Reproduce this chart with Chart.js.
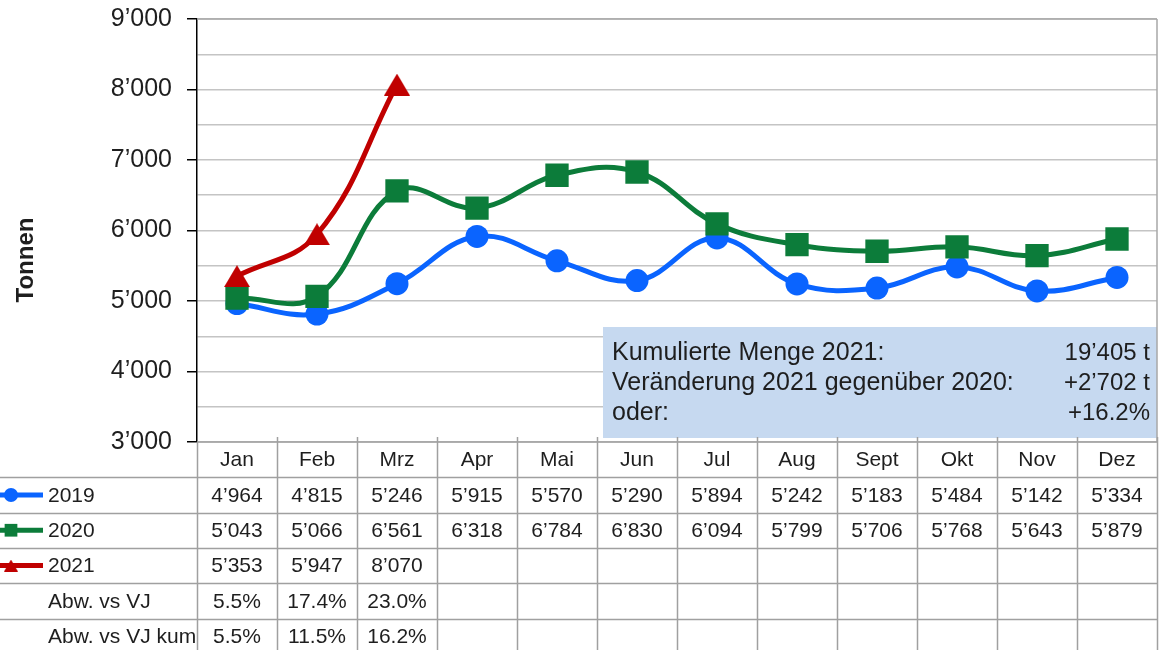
<!DOCTYPE html>
<html>
<head>
<meta charset="utf-8">
<script src="https://cdn.jsdelivr.net/npm/chart.js@4.4.1/dist/chart.umd.min.js"></script>
<style>
    body { margin: 0; background: #fff; }
    #chart { display: block; }
</style>
</head>
<body>
<canvas id="chart" width="1162" height="650"></canvas>
<script>
const months = ['Jan', 'Feb', 'Mrz', 'Apr', 'Mai', 'Jun', 'Jul', 'Aug', 'Sept', 'Okt', 'Nov', 'Dez'];
const values2019 = [4964, 4815, 5246, 5915, 5570, 5290, 5894, 5242, 5183, 5484, 5142, 5334];
const values2020 = [5043, 5066, 6561, 6318, 6784, 6830, 6094, 5799, 5706, 5768, 5643, 5879];
const values2021 = [5353, 5947, 8070];
const abwVJ = ['5.5%', '17.4%', '23.0%'];
const abwVJKum = ['5.5%', '11.5%', '16.2%'];
const infoLabels = ['Kumulierte Menge 2021:', 'Veränderung 2021 gegenüber 2020:', 'oder:'];
const infoValues = ['19\u2019405 t', '+2\u2019702 t', '+16.2%'];

const FONT = '"Liberation Sans", Arial, sans-serif';
const TEXT = '#1e1e1e';
const GRID = '#c4c4c4';

function fmt(n) {
    return String(n).replace(/\B(?=(\d{3})+(?!\d))/g, '\u2019');
}

// triangle marker centred on its box, like the Excel one
function triangleImage(w, h, color) {
    const c = document.createElement('canvas');
    c.width = w;
    c.height = h;
    const g = c.getContext('2d');
    g.fillStyle = color;
    g.beginPath();
    g.moveTo(w / 2, 0);
    g.lineTo(w, h);
    g.lineTo(0, h);
    g.closePath();
    g.fill();
    return c;
}

const RED = '#c00000';
const series = [
    { label: '2019', data: values2019, color: '#0a64ff', style: 'circle', radius: 11.5, legendStyle: 'circle', legendRadius: 7, order: 2 },
    { label: '2020', data: values2020, color: '#0c7c3a', style: 'rect', radius: 16.5, legendStyle: 'rect', legendRadius: 9, order: 1 },
    { label: '2021', data: values2021, color: RED, style: triangleImage(26, 22, RED), radius: 12, legendStyle: triangleImage(14, 12, RED), legendRadius: 7, order: 0 }
];

// table + info box + axis title
const tablePlugin = {
    id: 'tablePlugin',
    beforeDatasetsDraw(chart) {
        const ctx = chart.ctx;
        const area = chart.chartArea;
        // info box
        const bx = 603, by = 327, bw = area.right - 603, bh = 111;
        ctx.save();
        ctx.fillStyle = '#c6d9f0';
        ctx.fillRect(bx, by, bw, bh);
        ctx.fillStyle = TEXT;
        ctx.textBaseline = 'middle';
        infoLabels.forEach((t, i) => {
            ctx.font = '25px ' + FONT;
            ctx.textAlign = 'left';
            ctx.fillText(t, bx + 9, by + 26 + i * 30);
            ctx.font = '24px ' + FONT;
            ctx.textAlign = 'right';
            ctx.fillText(infoValues[i], area.right - 7, by + 26 + i * 30);
        });
        ctx.restore();
    },
    afterDraw(chart) {
        const ctx = chart.ctx;
        const area = chart.chartArea;
        const xs = chart.scales.x;
        const colW = (area.right - area.left) / months.length;
        const rowH = 35.3;
        const top = area.bottom;
        ctx.save();

        // right and top border of the plot
        ctx.strokeStyle = '#a8a8a8';
        ctx.lineWidth = 1.5;
        ctx.beginPath();
        ctx.moveTo(area.right, area.top);
        ctx.lineTo(area.right, area.bottom);
        ctx.moveTo(area.left, area.top);
        ctx.lineTo(area.right, area.top);
        ctx.stroke();

        // table grid
        ctx.strokeStyle = '#a0a0a0';
        ctx.lineWidth = 1.5;
        ctx.beginPath();
        ctx.moveTo(area.left, top);
        ctx.lineTo(area.right, top);
        for (let r = 1; r <= 5; r++) {
            const y = Math.round(top + r * rowH) + 0.5;
            ctx.moveTo(0, y);
            ctx.lineTo(area.right, y);
        }
        for (let c = 0; c <= months.length; c++) {
            const x = Math.round(area.left + c * colW) + 0.5;
            ctx.moveTo(x, c === 0 ? top : top - 5);
            ctx.lineTo(x, 650);
        }
        ctx.stroke();

        ctx.font = '21px ' + FONT;
        ctx.fillStyle = TEXT;
        ctx.textBaseline = 'middle';
        ctx.textAlign = 'center';
        months.forEach((m, i) => {
            const x = xs.getPixelForValue(i);
            ctx.fillText(m, x, top + rowH / 2 + 1);
        });
        series.forEach((s, r) => {
            const y = top + (r + 1.5) * rowH + 1;
            s.data.forEach((v, i) => {
                ctx.fillText(fmt(v), xs.getPixelForValue(i), y);
            });
        });
        [abwVJ, abwVJKum].forEach((row, k) => {
            const y = top + (k + 4.5) * rowH + 1;
            row.forEach((v, i) => ctx.fillText(v, xs.getPixelForValue(i), y));
        });

        // row labels with legend keys
        ctx.textAlign = 'left';
        series.forEach((s, r) => {
            const y = top + (r + 1.5) * rowH;
            ctx.strokeStyle = s.color;
            ctx.lineWidth = 5;
            ctx.beginPath();
            ctx.moveTo(0, y);
            ctx.lineTo(43, y);
            ctx.stroke();
            ctx.fillStyle = s.color;
            Chart.helpers.drawPoint(ctx, { pointStyle: s.legendStyle, radius: s.legendRadius, rotation: 0, borderWidth: 0 }, 11, y);
            ctx.fillStyle = TEXT;
            ctx.fillText(s.label, 48, y + 1);
        });
        ctx.fillText('Abw. vs VJ', 48, top + 4.5 * rowH + 1);
        ctx.fillText('Abw. vs VJ kum', 48, top + 5.5 * rowH + 1);

        // axis title
        ctx.translate(26, 260);
        ctx.rotate(-Math.PI / 2);
        ctx.textAlign = 'center';
        ctx.font = 'bold 24px ' + FONT;
        ctx.fillText('Tonnen', 0, 0);
        ctx.restore();
    }
};

new Chart(document.getElementById('chart'), {
    type: 'line',
    data: {
        labels: months,
        datasets: series.map(s => ({
            label: s.label,
            data: s.data,
            order: s.order,
            borderColor: s.color,
            backgroundColor: s.color,
            borderWidth: 5,
            tension: 0.4,
            pointStyle: s.style,
            pointRadius: s.radius,
            pointBorderWidth: 0,
            pointBackgroundColor: s.color
        }))
    },
    options: {
        responsive: false,
        animation: false,
        layout: { autoPadding: false, padding: { top: 19, right: 5, bottom: 208, left: 0 } },
        plugins: {
            legend: { display: false },
            tooltip: { enabled: false },
            title: { display: false }
        },
        scales: {
            x: {
                display: false,
                offset: true
            },
            y: {
                min: 3000,
                max: 9000,
                afterFit(scale) {
                    scale.width = 197;
                    scale.paddingTop = 0;
                    scale.paddingBottom = 0;
                    scale.paddingLeft = 0;
                    scale.paddingRight = 0;
                },
                border: { display: true, color: '#000', width: 1.5 },
                grid: {
                    color: GRID,
                    lineWidth: 1.5,
                    tickLength: 10,
                    tickColor: c => (c.tick && c.tick.value % 1000 === 0) ? '#000' : 'rgba(0,0,0,0)'
                },
                ticks: {
                    stepSize: 500,
                    autoSkip: false,
                    padding: 15,
                    color: TEXT,
                    font: { family: FONT, size: 25 },
                    callback: v => v % 1000 === 0 ? fmt(v) : ''
                }
            }
        }
    },
    plugins: [tablePlugin]
});
</script>
</body>
</html>
